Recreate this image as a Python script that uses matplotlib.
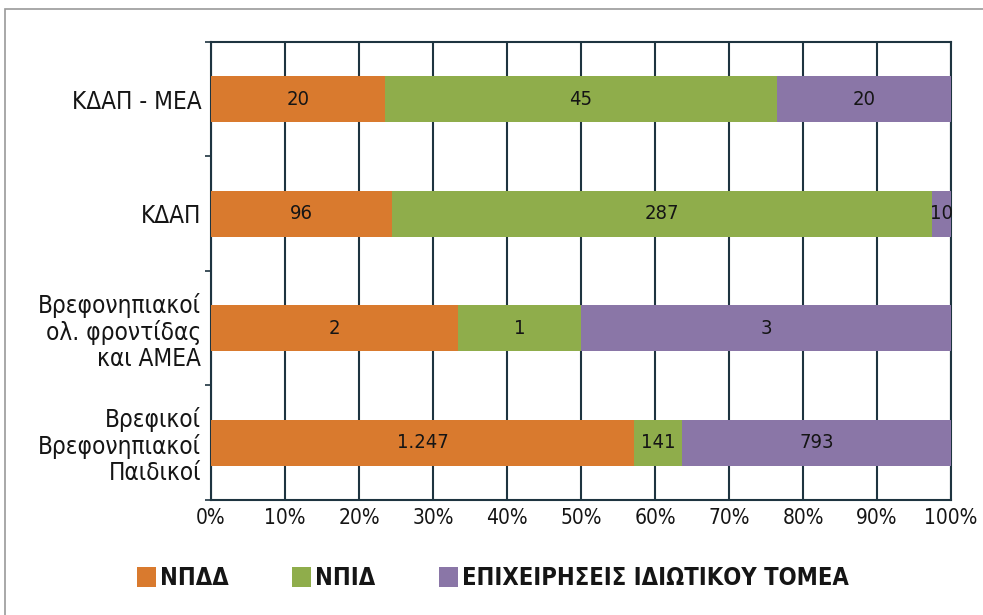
import numpy as np
import matplotlib.pyplot as plt
from matplotlib.patches import Rectangle
from matplotlib.ticker import FixedLocator

plt.rcParams['font.family'] = ['DejaVu Sans']
plt.rcParams['font.stretch'] = 'condensed'

categories = ['Βρεφικοί\nΒρεφονηπιακοί\nΠαιδικοί',
              'Βρεφονηπιακοί\nολ. φροντίδας\nκαι ΑΜΕΑ',
              'ΚΔΑΠ',
              'ΚΔΑΠ - ΜΕΑ']
series_names = ['ΝΠΔΔ', 'ΝΠΙΔ', 'ΕΠΙΧΕΙΡΗΣΕΙΣ ΙΔΙΩΤΙΚΟΥ ΤΟΜΕΑ']
npdd = [1247, 2, 96, 20]
npid = [141, 1, 287, 45]
private = [793, 3, 10, 20]
value_labels = [['1.247', '2', '96', '20'],
                ['141', '1', '287', '45'],
                ['793', '3', '10', '20']]
colors = ['#D97A2E', '#8FAD4B', '#8A76A7']

data = np.array([npdd, npid, private], dtype=float)
pct = data / data.sum(axis=0) * 100

fig = plt.figure(figsize=(9.83, 6.15), dpi=100)
fig.patches.append(Rectangle((0.005, -0.1), 1.2, 1.085, transform=fig.transFigure,
                             fill=False, edgecolor='#999999', linewidth=1.2))
ax = fig.add_axes([0.2147, 0.187, 0.7528, 0.745])

y = np.arange(len(categories))
left = np.zeros(len(categories))
grid_c = '#1E3440'
txt_c = '#151515'
for i in range(3):
    ax.barh(y, pct[i], left=left, height=0.4, color=colors[i],
            label=series_names[i], zorder=3)
    for j in range(len(categories)):
        cx = left[j] + pct[i][j] / 2
        ax.text(cx, y[j], value_labels[i][j], ha='center', va='center',
                fontsize=14.5, color=txt_c, zorder=4)
    left += pct[i]

ax.set_xlim(0, 100)
ax.set_ylim(-0.5, 3.5)
ax.set_xticks(np.arange(0, 101, 10))
ax.set_xticklabels([f'{v}%' for v in range(0, 101, 10)], fontsize=15, color=txt_c)
ax.set_yticks(y)
ax.set_yticklabels(categories, fontsize=17.5, linespacing=1.1, color=txt_c)
ax.yaxis.set_minor_locator(FixedLocator([-0.5, 0.5, 1.5, 2.5, 3.5]))
ax.tick_params(axis='y', which='major', length=0, pad=7)
ax.tick_params(axis='y', which='minor', length=4, width=1.2, color=grid_c)
ax.tick_params(axis='x', length=0, pad=6)
ax.xaxis.grid(True, color=grid_c, linewidth=1.5, zorder=1)
for s in ax.spines.values():
    s.set_color(grid_c)
    s.set_linewidth(1.5)

handles, labels = ax.get_legend_handles_labels()
leg = fig.legend(handles, labels, loc='center', bbox_to_anchor=(0.5015, 0.060), ncol=3,
                 frameon=False, prop={'size': 17, 'weight': 'bold'},
                 handlelength=0.8, handleheight=0.95,
                 handletextpad=0.17, columnspacing=2.7)
for t in leg.get_texts():
    t.set_color(txt_c)

fig.savefig('out.png', dpi=100)
